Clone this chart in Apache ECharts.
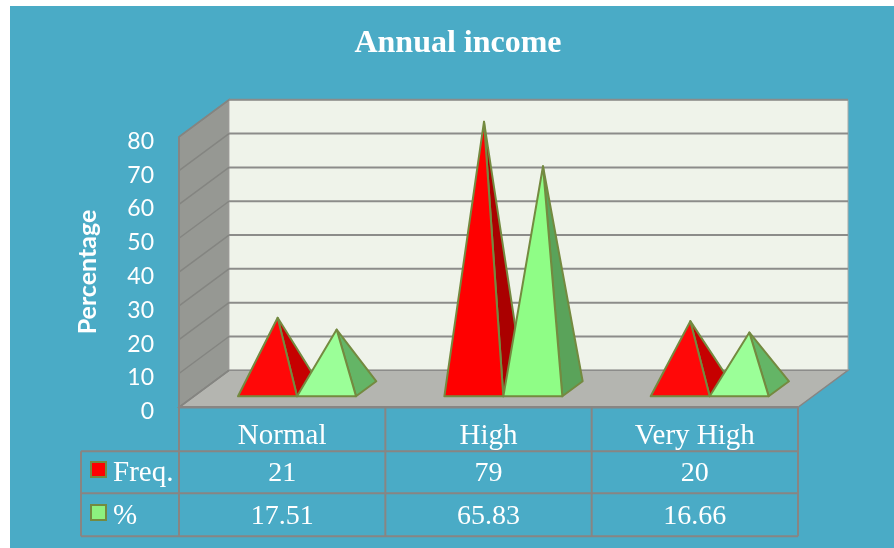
<!DOCTYPE html>
<html>
<head>
<meta charset="utf-8">
<style>html,body{margin:0;padding:0;background:#fff}#c{width:894px;height:548px}</style>
<script src="https://cdn.jsdelivr.net/npm/echarts@6/dist/echarts.min.js"></script>
</head>
<body>
<div id="c"></div>
<script>
const categories = ['Normal', 'High', 'Very High'];
const freqValues = [21, 79, 20];
const pctValues = [17.51, 65.83, 16.66];
const pctLabels = ['17.51', '65.83', '16.66'];
const yTicks = [0, 10, 20, 30, 40, 50, 60, 70, 80];

const SERIF = '"Liberation Serif"';
const BORDER = '#888583';
const DX = 50, DY = -37;           // depth vector of the 3D box
const BAR_W = 59;                  // pyramid base width
const BASE_F = 0.297;              // front of pyramid base, as a share of the depth
const BASE_B = 0.703;              // back of pyramid base
const faces = {
  red:   {low: ['#ff0808', '#c60000'], tall: ['#ff0000', '#aa0000']},
  green: {low: ['#9bff98', '#64b566'], tall: ['#8ffd86', '#5aa35a']}
};

function pyramid(values, palette, side) {
  return function (params, api) {
    const i = api.value(0), v = api.value(1);
    const p0 = api.coord([i, 0]), pv = api.coord([i, v]);
    const c = palette[v > 40 ? 'tall' : 'low'];
    const xl = side < 0 ? p0[0] - BAR_W : p0[0], xr = xl + BAR_W;
    const fx = DX * BASE_F, fy = DY * BASE_F;
    const bx = DX * BASE_B, by = DY * BASE_B;
    const ax = xl + BAR_W / 2 + DX / 2, ay = pv[1] + DY / 2;
    const stroke = {stroke: '#748a40', lineWidth: 2, lineJoin: 'round'};
    const FL = [xl + fx, p0[1] + fy], FR = [xr + fx, p0[1] + fy], BR = [xr + bx, p0[1] + by];
    return {type: 'group', children: [
      {type: 'polygon', shape: {points: [FR, BR, [ax, ay]]}, style: Object.assign({fill: c[1]}, stroke)},
      {type: 'polygon', shape: {points: [FL, FR, [ax, ay]]}, style: Object.assign({fill: c[0]}, stroke)}
    ]};
  };
}

function renderBox(params, api) {
  const a = api.coord([0, 0]), t = api.coord([0, yTicks[yTicks.length - 1]]);
  const w = api.size([1, 0])[0];
  const L = a[0] - w / 2, R = L + w * categories.length, B = a[1], T = t[1];
  const kids = [];
  const line = (x1, y1, x2, y2, color, width) => ({type: 'line',
    shape: {x1, y1, x2, y2}, style: {stroke: color, lineWidth: width}});
  kids.push({type: 'polygon', shape: {points: [[L, B], [L, T], [L + DX, T + DY], [L + DX, B + DY]]},
    style: {fill: '#969893', stroke: BORDER, lineWidth: 1.5}});
  kids.push({type: 'polygon', shape: {points: [[L, B], [R, B], [R + DX, B + DY], [L + DX, B + DY]]},
    style: {fill: '#b4b5b0', stroke: BORDER, lineWidth: 1.5}});
  kids.push({type: 'rect', shape: {x: L + DX, y: T + DY, width: R - L, height: B - T},
    style: {fill: '#eff3ea', stroke: '#a9a9a6', lineWidth: 1}});
  yTicks.forEach(v => {
    const y = api.coord([0, v])[1];
    kids.push(line(L, y, L + DX, y + DY, '#848581', 1.5));
    kids.push(line(L + DX, y + DY, R + DX, y + DY, '#8c8c8a', v === 0 ? 1.5 : 2));
  });
  kids.push(line(L, T, L, B, BORDER, 2));
  kids.push(line(L, B, R, B, BORDER, 2.5));
  return {type: 'group', children: kids};
}

function renderTable(params, api) {
  const a = api.coord([0, 0]);
  const w = api.size([1, 0])[0];
  const L = a[0] - w / 2, B = a[1], R = L + w * categories.length;
  const rows = [B + 44, B + 86, B + 129];
  const tableLeft = L - 98;
  const kids = [];
  const line = (x1, y1, x2, y2) => ({type: 'line', shape: {x1, y1, x2, y2},
    style: {stroke: BORDER, lineWidth: 2}});
  rows.forEach(y => kids.push(line(tableLeft, y, R, y)));
  kids.push(line(tableLeft, rows[0], tableLeft, rows[2]));
  for (let k = 0; k <= categories.length; k++) kids.push(line(L + k * w, B, L + k * w, rows[2]));
  const cell = (txt, i, y) => ({type: 'text', style: {text: String(txt), x: api.coord([i, 0])[0], y,
    fill: '#fff', font: '28px ' + SERIF, align: 'center', verticalAlign: 'middle'}});
  categories.forEach((c, i) => {
    kids.push(cell(freqValues[i], i, rows[0] + 22.5));
    kids.push(cell(pctLabels[i], i, rows[1] + 23.5));
  });
  return {type: 'group', children: kids};
}

const chart = echarts.init(document.getElementById('c'), null, {renderer: 'canvas'});
chart.setOption({
  animation: false,
  graphic: [{type: 'rect', silent: true, z: -10, shape: {x: 10, y: 6, width: 884, height: 542},
    style: {fill: '#4aabc6'}}],
  title: {text: 'Annual income', left: 453, top: 23, textAlign: 'center',
    textStyle: {fontFamily: SERIF, fontWeight: 'bold', fontSize: 32, color: '#fff'}},
  legend: {orient: 'vertical', left: 90, top: 458.5, padding: 0, itemWidth: 15, itemHeight: 15, itemGap: 14,
    selectedMode: false,
    formatter: name => '{a|' + name + '}',
    textStyle: {color: '#fff', rich: {a: {fontFamily: SERIF, fontSize: 29, color: '#fff', padding: [7, 0, 0, 2]}}},
    data: [{name: 'Freq.', icon: 'rect', itemStyle: {color: '#ff0000', borderColor: '#748a40', borderWidth: 2}},
           {name: '%', icon: 'rect', itemStyle: {color: '#8cf07f', borderColor: '#748a40', borderWidth: 2}}]},
  grid: {left: 179, top: 136.8, width: 619, height: 270.5},
  xAxis: {type: 'category', data: categories, axisLine: {show: false}, axisTick: {show: false},
    axisLabel: {color: '#fff', fontFamily: SERIF, fontSize: 29, margin: 15}},
  yAxis: {type: 'value', min: 0, max: 80, interval: 10, splitLine: {show: false}, axisLine: {show: false},
    axisTick: {show: false},
    name: 'Percentage', nameLocation: 'middle', nameGap: 79,
    nameTextStyle: {color: '#fff', fontFamily: 'Lato', fontWeight: 'bold', fontSize: 25},
    axisLabel: {color: '#fff', margin: 25, formatter: '{a|{value}}',
      rich: {a: {fontFamily: 'Lato', fontSize: 23, color: '#fff', padding: [9, 0, 0, 0]}}}},
  series: [
    {name: 'box', type: 'custom', silent: true, z: 1, data: [[0]], renderItem: renderBox, encode: {x: 0}},
    {name: 'table', type: 'custom', silent: true, z: 1, data: [[0]], renderItem: renderTable, encode: {x: 0}},
    {name: 'Freq.', type: 'custom', z: 2, itemStyle: {color: '#ff0000'},
      data: freqValues.map((v, i) => [i, v]), renderItem: pyramid(freqValues, faces.red, -1), encode: {x: 0, y: 1}},
    {name: '%', type: 'custom', z: 3, itemStyle: {color: '#8cf07f'},
      data: pctValues.map((v, i) => [i, v]), renderItem: pyramid(pctValues, faces.green, 1), encode: {x: 0, y: 1}}
  ]
});
</script>
</body>
</html>
